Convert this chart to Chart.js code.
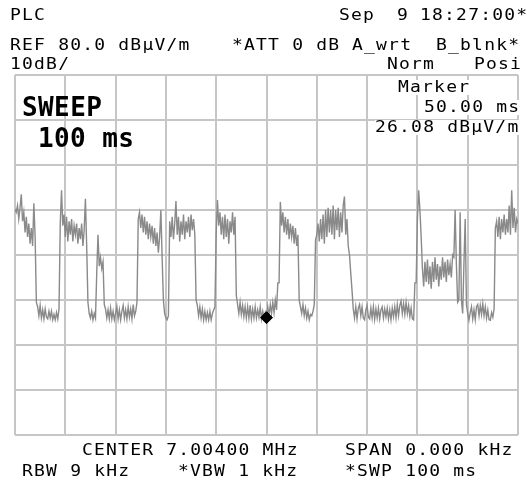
<!DOCTYPE html>
<html>
<head>
<meta charset="utf-8">
<script src="https://cdn.jsdelivr.net/npm/chart.js@4"></script>
<style>
  html, body { margin: 0; padding: 0; background: #fff; overflow: hidden; }
  #wrap { position: relative; width: 527px; height: 484px; overflow: hidden; }
  canvas { position: absolute; left: 0; top: 0; }
  .t { position: absolute; font-family: "DejaVu Sans Mono", monospace; font-size: 15px; line-height: 15px;
       letter-spacing: 1px; transform: scaleX(1.2); transform-origin: 0 0; white-space: pre; color: #000; }
  .big { position: absolute; font-family: "DejaVu Sans Mono", monospace; font-size: 26px; line-height: 26px;
         letter-spacing: 0.4px; white-space: pre; color: #000; font-weight: bold; }
  .bg { background: #fff; }
</style>
</head>
<body>
<div id="wrap">
  <canvas id="c" width="527" height="484"></canvas>
</div>
<script>
// ---- data: 100 ms sweep, one reading every 0.25 ms (4 per row = 1 ms) ----
const levelDbuvm = [
  50.2, 49.5, 51.0, 48.0,   // 0 ms
  50.5, 53.5, 47.5, 49.5,   // 1
  45.0, 48.5, 44.0, 47.0,   // 2
  42.5, 46.0, 42.0, 51.5,   // 3
  44.0, 29.5, 28.5, 26.5,   // 4
  28.8, 26.0, 27.8, 25.8,   // 5
  28.0, 26.2, 25.8, 27.5,   // 6
  26.0, 27.5, 25.6, 26.8,   // 7
  25.6, 27.2, 25.8, 28.0,   // 8
  47.0, 54.4, 46.5, 49.0,   // 9
  44.0, 48.5, 43.0, 47.5,   // 10
  44.5, 48.0, 43.0, 46.5,   // 11
  44.5, 47.0, 42.5, 46.0,   // 12
  43.5, 47.0, 42.0, 45.5,   // 13
  52.5, 42.0, 29.5, 27.0,   // 14
  26.0, 27.5, 25.6, 27.0,   // 15
  26.0, 36.0, 44.5, 37.5,   // 16
  39.5, 37.0, 38.5, 29.0,   // 17
  28.0, 26.0, 27.8, 25.8,   // 18
  28.2, 25.8, 27.5, 25.6,   // 19
  27.0, 28.5, 25.8, 27.8,   // 20
  25.6, 27.5, 28.8, 26.0,   // 21
  27.8, 25.8, 28.5, 26.2,   // 22
  28.0, 25.8, 29.0, 26.5,   // 23
  27.5, 29.5, 48.0, 49.5,   // 24
  46.0, 49.0, 45.0, 48.5,   // 25
  44.5, 47.5, 43.5, 47.0,   // 26
  44.0, 46.5, 42.5, 46.0,   // 27
  42.0, 45.0, 40.5, 44.0,   // 28
  50.0, 39.5, 30.0, 27.0,   // 29
  26.0, 25.6, 26.5, 47.5,   // 30
  44.0, 48.5, 43.5, 47.0,   // 31
  52.0, 44.5, 48.5, 43.0,   // 32
  47.5, 44.5, 49.0, 43.5,   // 33
  47.5, 45.0, 48.5, 44.0,   // 34
  49.0, 45.5, 48.0, 44.5,   // 35
  30.0, 28.8, 26.5, 28.5,   // 36
  26.0, 28.0, 25.6, 27.5,   // 37
  25.6, 27.2, 25.6, 27.5,   // 38
  25.6, 27.0, 27.8, 28.5,   // 39
  45.0, 52.2, 46.5, 49.5,   // 40
  44.5, 48.5, 43.5, 49.0,   // 41
  44.0, 48.0, 42.5, 47.5,   // 42
  45.0, 49.5, 44.5, 48.5,   // 43
  31.0, 29.0, 27.0, 29.5,   // 44
  26.8, 28.8, 26.3, 28.5,   // 45
  26.0, 28.5, 26.0, 28.8,   // 46
  25.8, 28.0, 26.0, 28.5,   // 47
  26.0, 27.8, 26.2, 28.5,   // 48
  25.8, 27.5, 26.0, 27.2,   // 49
  26.08, 28.5, 26.5, 29.0,  // 50
  27.0, 29.5, 27.2, 30.0,   // 51
  27.8, 33.8, 33.8, 51.8,   // 52
  46.5, 49.5, 45.0, 48.5,   // 53
  44.5, 48.0, 43.5, 47.0,   // 54
  44.0, 46.5, 42.5, 46.0,   // 55
  42.0, 44.5, 30.0, 28.5,   // 56
  27.0, 29.0, 26.5, 28.2,   // 57
  26.0, 27.5, 25.6, 26.8,   // 58
  26.5, 27.5, 29.0, 43.3,   // 59
  44.5, 47.0, 43.0, 48.0,   // 60
  43.5, 49.0, 42.5, 50.0,   // 61
  44.0, 50.5, 45.0, 50.0,   // 62
  44.5, 51.0, 43.5, 50.0,   // 63
  45.5, 50.5, 44.0, 49.5,   // 64
  45.0, 51.0, 53.0, 44.5,   // 65
  48.0, 42.0, 40.0, 36.0,   // 66
  32.2, 28.0, 26.0, 28.5,   // 67
  25.8, 28.2, 29.0, 26.5,   // 68
  28.5, 26.0, 25.6, 27.8,   // 69
  28.8, 26.2, 25.8, 28.2,   // 70
  26.0, 28.5, 25.7, 28.0,   // 71
  26.0, 28.2, 25.8, 27.8,   // 72
  28.5, 26.0, 28.0, 26.3,   // 73
  28.2, 25.8, 27.8, 25.6,   // 74
  28.2, 26.3, 28.5, 26.0,   // 75
  29.0, 26.5, 28.8, 29.8,   // 76
  27.0, 29.2, 26.8, 29.5,   // 77
  27.0, 28.8, 26.3, 28.2,   // 78
  25.8, 25.6, 33.8, 33.8,   // 79
  48.0, 54.4, 50.0, 44.0,   // 80
  37.0, 33.0, 38.5, 34.0,   // 81
  39.0, 33.5, 37.5, 32.5,   // 82
  38.5, 34.0, 39.5, 34.5,   // 83
  38.0, 33.0, 37.5, 34.5,   // 84
  39.5, 35.0, 38.5, 34.0,   // 85
  39.0, 35.5, 38.0, 35.0,   // 86
  40.0, 39.5, 50.0, 38.0,   // 87
  29.5, 30.0, 49.5, 30.0,   // 88
  27.0, 38.0, 48.0, 29.0,   // 89
  27.0, 25.5, 27.2, 28.5,   // 90
  25.8, 27.8, 25.6, 28.5,   // 91
  29.0, 26.5, 28.8, 26.8,   // 92
  29.2, 26.5, 28.5, 26.0,   // 93
  27.8, 25.6, 25.5, 27.2,   // 94
  26.2, 28.0, 46.0, 47.5,   // 95
  44.0, 48.5, 43.5, 48.0,   // 96
  45.0, 49.0, 44.5, 48.0,   // 97
  45.0, 51.0, 44.5, 54.4,   // 98
  46.0, 50.5, 45.0, 48.0,   // 99
  47.0                      // 100
];
const sweepStepMs = 0.25;
const markerTimeMs = [50.0];
const markerLevel = [26.08];
const refLevel = 80;
const dbPerDiv = 10;
const timeDivMs = 10;

const sweepPoints = levelDbuvm.map((v, i) => ({ x: i * sweepStepMs, y: v }));
const markerPoints = markerTimeMs.map((t, i) => ({ x: t, y: markerLevel[i] }));

// ---- text labels ----
const texts = [
  { s: "PLC", x: 10, y: 10 },
  { s: "Sep", x: 339, y: 10 },
  { s: "9", x: 397, y: 10 },
  { s: "18:27:00*", x: 420, y: 10 },
  { s: "REF 80.0 dBµV/m", x: 10, y: 40 },
  { s: "*ATT 0 dB", x: 232, y: 40 },
  { s: "A_wrt", x: 352, y: 40 },
  { s: "B_blnk*", x: 436, y: 40 },
  { s: "10dB/", x: 10, y: 59 },
  { s: "Norm", x: 387, y: 59 },
  { s: "Posi", x: 474, y: 59 },
  { s: "Marker", x: 398, y: 82, bg: true },
  { s: "50.00 ms", x: 424, y: 102, bg: true },
  { s: "26.08 dBµV/m", x: 375, y: 122, bg: true },
  { s: "CENTER 7.00400 MHz", x: 82, y: 445 },
  { s: "SPAN 0.000 kHz", x: 345, y: 445 },
  { s: "RBW 9 kHz", x: 22, y: 466 },
  { s: "*VBW 1 kHz", x: 178, y: 466 },
  { s: "*SWP 100 ms", x: 345, y: 466 }
];
const bigTexts = [
  { s: "SWEEP", x: 22, y: 97 },
  { s: "100 ms", x: 38, y: 128 }
];

const wrap = document.getElementById('wrap');

new Chart(document.getElementById('c'), {
  type: 'line',
  data: {
    datasets: [
      {
        data: markerPoints,
        showLine: false,
        pointStyle: 'rectRot',
        pointRadius: 6,
        pointBackgroundColor: '#000',
        pointBorderColor: '#000',
        order: 0
      },
      {
        data: sweepPoints,
        borderColor: '#8a8a8a',
        borderWidth: 1.4,
        pointRadius: 0,
        tension: 0,
        fill: false,
        order: 1
      }
    ]
  },
  options: {
    responsive: false,
    animation: false,
    devicePixelRatio: 1,
    layout: { padding: { left: 15, right: 9, top: 75, bottom: 49 } },
    plugins: { legend: { display: false }, tooltip: { enabled: false } },
    scales: {
      x: {
        type: 'linear', min: 0, max: 100,
        ticks: { display: false, stepSize: timeDivMs },
        grid: { color: '#c6c6c6', lineWidth: 2, drawTicks: false },
        border: { display: false }
      },
      y: {
        type: 'linear', min: refLevel - 8 * dbPerDiv, max: refLevel,
        ticks: { display: false, stepSize: dbPerDiv },
        grid: { color: '#c6c6c6', lineWidth: 2, drawTicks: false },
        border: { display: false }
      }
    }
  }
});

texts.forEach(t => {
  const d = document.createElement('div');
  d.className = 't' + (t.bg ? ' bg' : '');
  d.textContent = t.s;
  d.style.left = t.x + 'px';
  d.style.top = (t.y - 2) + 'px';
  wrap.appendChild(d);
});
bigTexts.forEach(t => {
  const d = document.createElement('div');
  d.className = 'big';
  d.textContent = t.s;
  d.style.left = t.x + 'px';
  d.style.top = (t.y - 3) + 'px';
  wrap.appendChild(d);
});
</script>
</body>
</html>
